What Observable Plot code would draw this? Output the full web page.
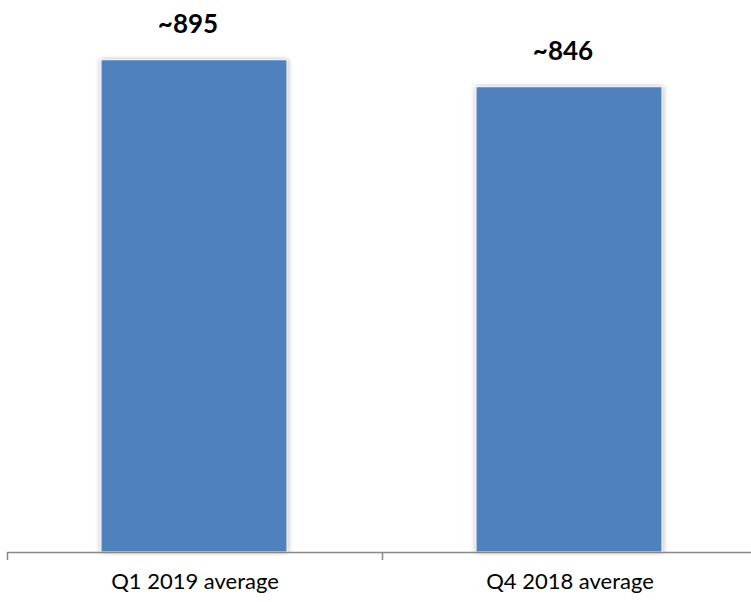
<!DOCTYPE html>
<html>
<head>
<meta charset="utf-8">
<script src="https://cdn.jsdelivr.net/npm/d3@7"></script>
<script src="https://cdn.jsdelivr.net/npm/@observablehq/plot@0.6"></script>
<style>
  html, body { margin: 0; padding: 0; background: #fff; }
  #chart svg { display: block; }
  .bars rect { filter: drop-shadow(2px 0px 2px rgba(0,0,0,0.18)) drop-shadow(-2px 0px 2px rgba(0,0,0,0.12)); }
</style>
</head>
<body>
<div id="chart"></div>
<script>
const categories = ["Q1 2019 average", "Q4 2018 average"];
const values = [895, 846];
const valueLabels = ["~895", "~846"];

const data = categories.map((c, i) => ({category: c, value: values[i], label: valueLabels[i]}));

const chart = Plot.plot({
  width: 751,
  height: 602,
  marginTop: 2,
  marginBottom: 50,
  marginLeft: 7,
  marginRight: 0,
  style: {fontFamily: "Lato, 'Open Sans', sans-serif", background: "#fff"},
  x: {domain: categories, range: [7, 757], padding: 0, label: null},
  y: {domain: [0, 1000], axis: null},
  marks: [
    Plot.barY(data, {
      x: "category", y: "value",
      fill: "#4F81BD", stroke: "#ffffff", strokeWidth: 1,
      insetLeft: 94, insetRight: 95,
      className: "bars"
    }),
    Plot.ruleY([0], {stroke: "#888888", strokeWidth: 1.5}),
    Plot.axisX({tickSize: 8, dx: -187.5, tickFormat: () => "", stroke: "#888888", strokeWidth: 1.5, label: null}),
    Plot.axisX({tickSize: 0, tickPadding: 21, fontSize: 22, fill: "#000", label: null}),
    Plot.text(data, {
      x: "category", y: "value", text: "label",
      dy: -36, dx: -7, fontSize: 26, fontWeight: "bold", fill: "#000"
    })
  ]
});
document.getElementById("chart").appendChild(chart);
</script>
</body>
</html>
